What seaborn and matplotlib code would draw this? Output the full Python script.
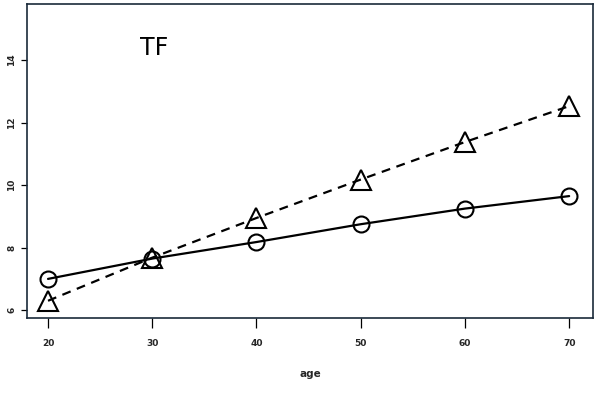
import numpy as np
import pandas as pd
import seaborn as sns
import matplotlib.pyplot as plt

# values
ages = [20, 30, 40, 50, 60, 70]
tf_circle = [7.0, 7.65, 8.18, 8.75, 9.25, 9.65]
tf_triangle = [6.3, 7.68, 8.95, 10.18, 11.38, 12.53]
x_ticks = [20, 30, 40, 50, 60, 70]
y_ticks = [6, 8, 10, 12, 14]

sns.set_style("white")
plt.rcParams["font.family"] = ["DejaVu Sans"]

fig = plt.figure(figsize=(6.04, 3.94), dpi=100)
ax = fig.add_axes([0.045, 0.193, 0.937, 0.797])

df = pd.DataFrame({"age": ages, "circle": tf_circle, "triangle": tf_triangle})

sns.lineplot(data=df, x="age", y="circle", ax=ax, color="black", linewidth=1.6,
             marker="o", markersize=11.5, markerfacecolor="none",
             markeredgecolor="black", markeredgewidth=1.5)
sns.lineplot(data=df, x="age", y="triangle", ax=ax, color="black", linewidth=1.6,
             linestyle=(0, (4, 3)), marker="^", markersize=14, markerfacecolor="none",
             markeredgecolor="black", markeredgewidth=1.5)

ax.set_xlim(18, 72.3)
ax.set_ylim(5.75, 15.8)
ax.set_xticks(x_ticks)
ax.set_yticks(y_ticks)
ax.set_xticklabels([str(t) for t in x_ticks], fontsize=6.5, fontweight="bold")
ax.set_yticklabels([str(t) for t in y_ticks], fontsize=6.5, fontweight="bold",
                   rotation=90, va="center")
ax.tick_params(axis="x", direction="out", length=7.5, width=0.9, color="black",
               bottom=True, pad=8)
ax.tick_params(axis="y", direction="out", length=4, width=0.9, color="black",
               left=True, pad=4)
ax.set_xlabel("age", fontsize=7.5, fontweight="bold", labelpad=15)
ax.set_ylabel("")

for s in ax.spines.values():
    s.set_color("#1a2a3a")
    s.set_linewidth(1.2)

ax.text(30.2, 14.4, "TF", fontsize=17, ha="center", va="center", color="black")

plt.savefig("out.png", dpi=100)
